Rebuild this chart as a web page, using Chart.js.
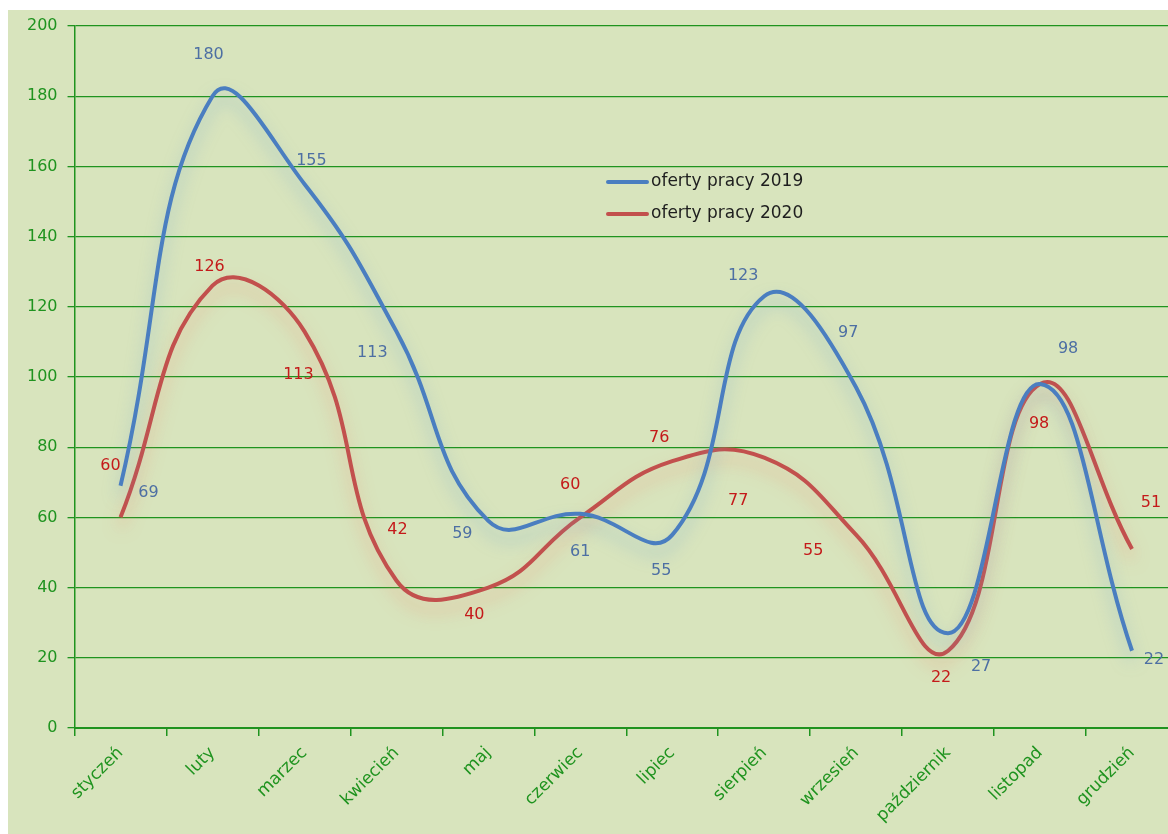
<!DOCTYPE html>
<html>
<head>
<meta charset="utf-8">
<script src="https://cdn.jsdelivr.net/npm/chart.js@4/dist/chart.umd.min.js"></script>
<style>
	html, body { margin: 0; padding: 0; background: #ffffff; overflow: hidden; }
	#wrap { width: 1190px; height: 834px; }
</style>
</head>
<body>
<div id="wrap"><canvas id="chart" width="1190" height="834"></canvas></div>
<script>
var months = ['styczeń', 'luty', 'marzec', 'kwiecień', 'maj', 'czerwiec', 'lipiec', 'sierpień', 'wrzesień', 'październik', 'listopad', 'grudzień'];
var offers2019 = [69, 180, 155, 113, 59, 61, 55, 123, 97, 27, 98, 22];
var offers2020 = [60, 126, 113, 42, 40, 60, 76, 77, 55, 22, 98, 51];

// where Excel put each data label, relative to its point
var labelShift2019 = [[28, 7], [-4, -41], [7, -23], [-24, 21], [-26, 13], [0, 38], [-11, 36], [-21, -20], [-8, -55], [33, 34], [28, -35], [22, 9]];
var labelShift2020 = [[-10, -52], [-3, -19], [-6, 43], [1, -51], [-14, 27], [-10, -33], [-13, -23], [-26, 43], [-43, 16], [-7, 27], [-1, 40], [19, -46]];

var GREEN = '#1f931f';
var FONT = "'DejaVu Sans', sans-serif";

const chartBackground = {
	id: 'chartBackground',
	beforeDraw(chart) {
		const ctx = chart.ctx;
		ctx.save();
		ctx.fillStyle = '#d8e4bd';
		ctx.fillRect(8, 10, chart.width - 8, chart.height - 10);
		ctx.restore();
	}
};

const lineGlow = {
	id: 'lineGlow',
	beforeDatasetDraw(chart, args) {
		const ctx = chart.ctx;
		ctx.save();
		ctx.shadowColor = args.index == 0 ? 'rgba(120,170,205,0.6)' : 'rgba(240,140,110,0.55)';
		ctx.shadowBlur = 16;
		ctx.shadowOffsetY = 10;
	},
	afterDatasetDraw(chart) {
		chart.ctx.restore();
	}
};

const valueLabels = {
	id: 'valueLabels',
	afterDatasetsDraw(chart) {
		const ctx = chart.ctx;
		ctx.save();
		ctx.font = '16px ' + FONT;
		ctx.textAlign = 'center';
		ctx.textBaseline = 'middle';
		chart.data.datasets.forEach((ds, i) => {
			var meta = chart.getDatasetMeta(i);
			ctx.fillStyle = ds.labelColor;
			meta.data.forEach((pt, j) => {
				var s = ds.labelShift[j];
				ctx.fillText(ds.data[j], pt.x + s[0], pt.y + s[1]);
			});
		});
		ctx.restore();
	}
};

const floatingLegend = {
	id: 'floatingLegend',
	afterDraw(chart) {
		const ctx = chart.ctx;
		ctx.save();
		ctx.font = '17px ' + FONT;
		ctx.textBaseline = 'middle';
		chart.data.datasets.forEach((ds, i) => {
			var y = 182 + i * 32;
			ctx.strokeStyle = ds.borderColor;
			ctx.lineWidth = 4;
			ctx.lineCap = 'round';
			ctx.beginPath();
			ctx.moveTo(608, y);
			ctx.lineTo(647, y);
			ctx.stroke();
			ctx.fillStyle = '#1e1e1e';
			ctx.fillText(ds.label, 651, y);
		});
		ctx.restore();
	}
};

var chart = new Chart(document.getElementById('chart'), {
	type: 'line',
	data: {
		labels: months,
		datasets: [
			{
				label: 'oferty pracy 2019',
				data: offers2019,
				borderColor: '#4a7ec0',
				labelColor: '#4d6fa3',
				labelShift: labelShift2019,
				borderWidth: 4,
				tension: 0.45,
				pointRadius: 0,
			},
			{
				label: 'oferty pracy 2020',
				data: offers2020,
				borderColor: '#c2504d',
				labelColor: '#c41a1a',
				labelShift: labelShift2020,
				borderWidth: 4,
				tension: 0.45,
				pointRadius: 0,
			},
		]
	},
	options: {
		responsive: false,
		animation: false,
		layout: {
			padding: {left: 17, top: 26, right: 12, bottom: 1}
		},
		scales: {
			x: {
				offset: true,
				grid: {
					offset: true,
					drawOnChartArea: false,
					drawTicks: true,
					tickLength: 8,
					color: GREEN,
					lineWidth: 1.5,
				},
				border: {color: GREEN, width: 2},
				ticks: {
					color: GREEN,
					font: {family: FONT, size: 17},
					minRotation: 45,
					maxRotation: 45,
					padding: 7,
				}
			},
			y: {
				min: 0,
				max: 200,
				grid: {
					color: GREEN,
					lineWidth: 1.3,
					tickLength: 7,
				},
				border: {color: GREEN, width: 1.5},
				ticks: {
					stepSize: 20,
					color: GREEN,
					font: {family: FONT, size: 16},
					padding: 10,
				}
			}
		},
		plugins: {
			legend: {display: false},
			tooltip: {enabled: false},
		}
	},
	plugins: [chartBackground, lineGlow, valueLabels, floatingLegend],
});
</script>
</body>
</html>
